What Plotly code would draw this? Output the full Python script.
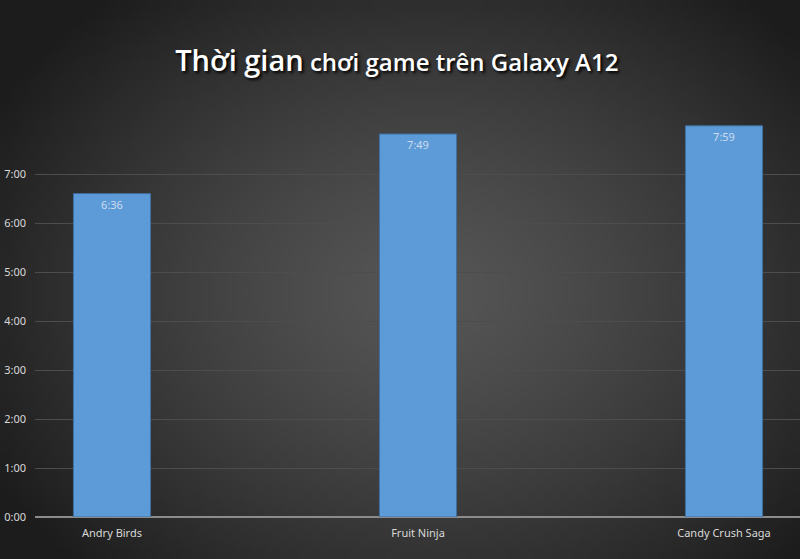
import base64, struct, zlib
import numpy as np
import plotly.graph_objects as go

# ---- data ----
games = ["Andry Birds", "Fruit Ninja", "Candy Crush Saga"]
minutes = [396, 469, 479]          # 6:36, 7:49, 7:59
tick_hours = [0, 1, 2, 3, 4, 5, 6, 7]
tick_labels = ["0:00", "1:00", "2:00", "3:00", "4:00", "5:00", "6:00", "7:00"]

hours = [m / 60 for m in minutes]
labels = [f"{m // 60}:{m % 60:02d}" for m in minutes]

# ---- radial gradient background image (PNG built in memory) ----
def png_data_uri(arr):
    h, w, _ = arr.shape
    raw = b"".join(b"\x00" + arr[y].tobytes() for y in range(h))
    def chunk(t, d):
        c = struct.pack(">I", len(d)) + t + d
        return c + struct.pack(">I", zlib.crc32(t + d) & 0xffffffff)
    png = b"\x89PNG\r\n\x1a\n" + chunk(b"IHDR", struct.pack(">IIBBBBB", w, h, 8, 2, 0, 0, 0)) \
        + chunk(b"IDAT", zlib.compress(raw, 9)) + chunk(b"IEND", b"")
    return "data:image/png;base64," + base64.b64encode(png).decode()

W, H = 160, 112
yy, xx = np.mgrid[0:H, 0:W]
cx, cy = W * 0.53, H * 0.52
r = np.sqrt(((xx - cx) / (W * 0.62)) ** 2 + ((yy - cy) / (H * 0.70)) ** 2)
r = np.clip(r, 0, 1.0)
val = 86 - 58 * r ** 1.3
img = np.clip(np.stack([val, val, val], axis=-1), 0, 255).astype(np.uint8)
bg_uri = png_data_uri(img)

fig = go.Figure()
fig.add_trace(go.Bar(
    x=list(range(len(games))),
    y=hours,
    width=0.252,
    text=labels,
    textposition="inside",
    insidetextanchor="end",
    textfont=dict(family="Noto Sans", size=11, color="#cddcee"),
    marker=dict(color="#5c9bd8", line=dict(color="#3f6f9e", width=1)),
    hoverinfo="skip",
))

fig.update_layout(
    width=800, height=559,
    margin=dict(l=35, r=0, t=110, b=42),
    paper_bgcolor="#2a2a2a",
    plot_bgcolor="rgba(0,0,0,0)",
    showlegend=False,
    images=[dict(source=bg_uri, xref="paper", yref="paper",
                 x=-35 / 765, y=1 + 110 / 407, sizex=800 / 765, sizey=559 / 407,
                 xanchor="left", yanchor="top", sizing="stretch", layer="below")],
    title=dict(
        text="<span style='font-size:29px'>Thời gian</span> chơi game trên Galaxy A12",
        x=0.496, xanchor="center", xref="container",
        y=1 - 63 / 559, yanchor="middle", yref="container",
        font=dict(family="Open Sans", size=24, color="#ffffff", weight=600,
                  shadow="2px 2px 3px #000000"),
    ),
    xaxis=dict(
        range=[-0.2516, 2.2484],
        tickvals=list(range(len(games))),
        ticktext=games,
        showgrid=False, zeroline=False, showline=False,
        ticks="", ticklabelstandoff=8,
        tickfont=dict(family="Noto Sans", size=11, color="#d9d9d9"),
    ),
    yaxis=dict(
        range=[0, 407 / 49],
        tickvals=tick_hours,
        ticktext=tick_labels,
        showgrid=True, gridcolor="#4d4d4d", gridwidth=1,
        zeroline=True, zerolinecolor="#8c8c8c", zerolinewidth=2,
        showline=False, ticks="", ticklabelstandoff=8,
        tickfont=dict(family="Noto Sans", size=11, color="#d9d9d9"),
    ),
)

fig.write_html("out.html", config={"displayModeBar": False},
               post_script="document.body.style.margin='0';document.body.style.overflow='hidden';")
